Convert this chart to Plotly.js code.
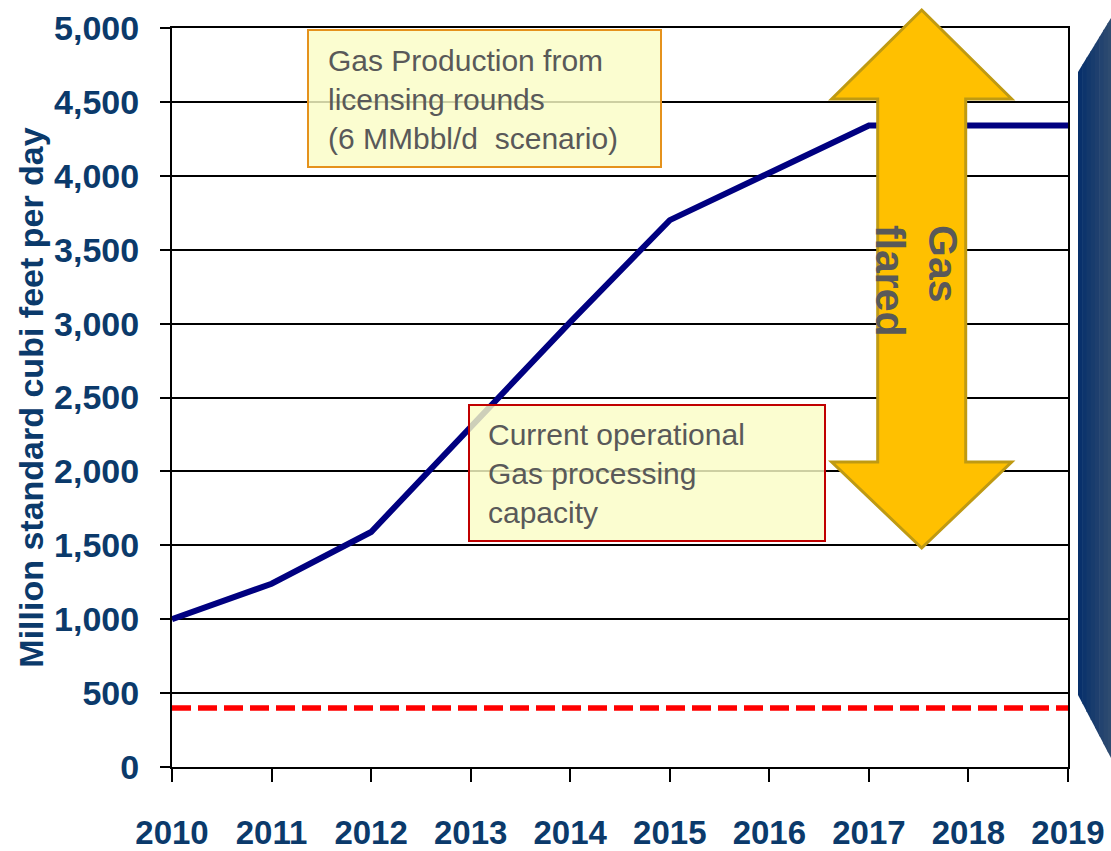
<!DOCTYPE html>
<html>
<head>
<meta charset="utf-8">
<script src="https://cdn.plot.ly/plotly-3.0.1.min.js"></script>
<style>html,body{margin:0;padding:0;background:#fff;}#chart{width:1111px;height:851px;}</style>
</head>
<body>
<div id="chart"></div>
<script>
// ---- data ----
var years = [2010, 2011, 2012, 2013, 2014, 2015, 2016, 2017, 2018, 2019];
var gasProduction = [1000, 1240, 1590, 2300, 3010, 3700, 4020, 4340, 4340, 4340];
var processingCapacity = [400, 400, 400, 400, 400, 400, 400, 400, 400, 400];
var yTickVals = [0, 500, 1000, 1500, 2000, 2500, 3000, 3500, 4000, 4500, 5000];
var yTickText = ['0', '500', '1,000', '1,500', '2,000', '2,500', '3,000', '3,500', '4,000', '4,500', '5,000'];
var xTickText = years.map(String);

// ---- layout helpers (pixel -> paper) ----
var W = 1111, H = 851, L = 172, R = 43, T = 28, B = 84;
var PW = W - L - R, PH = H - T - B;
function px(x) { return (x - L) / PW; }
function py(y) { return (H - B - y) / PH; }

var axisColor = '#0b3a6b';
var FONT = 'Liberation Sans, Arial, sans-serif';

var traces = [
  {
    x: years, y: processingCapacity, mode: 'lines', type: 'scatter',
    line: {color: '#ff0000', width: 5.5, dash: '19px,7px'},
    hoverinfo: 'skip', cliponaxis: false
  },
  {
    x: years, y: gasProduction, mode: 'lines', type: 'scatter',
    line: {color: '#000080', width: 6},
    hoverinfo: 'skip', cliponaxis: false
  }
];

// arrow (double-headed) in paper coords
var ax = {hl: px(831.7), sl: px(877.7), c: px(921.7), sr: px(965.7), hr: px(1011.7)};
var ay = {top: py(10), hb1: py(99), hb2: py(462), bot: py(548)};
var arrowPath = 'M' + ax.c + ',' + ay.top +
  ' L' + ax.hr + ',' + ay.hb1 + ' L' + ax.sr + ',' + ay.hb1 +
  ' L' + ax.sr + ',' + ay.hb2 + ' L' + ax.hr + ',' + ay.hb2 +
  ' L' + ax.c + ',' + ay.bot + ' L' + ax.hl + ',' + ay.hb2 +
  ' L' + ax.sl + ',' + ay.hb2 + ' L' + ax.sl + ',' + ay.hb1 +
  ' L' + ax.hl + ',' + ay.hb1 + ' Z';

var boxFill = 'rgba(250,252,198,0.82)';
var shapes = [
  {type: 'rect', xref: 'paper', yref: 'paper', x0: px(308), x1: px(661), y0: py(30), y1: py(167),
   fillcolor: boxFill, line: {color: '#e5921c', width: 2}, layer: 'above'},
  {type: 'rect', xref: 'paper', yref: 'paper', x0: px(469), x1: px(825), y0: py(405), y1: py(541),
   fillcolor: boxFill, line: {color: '#c00000', width: 2}, layer: 'above'},
  {type: 'path', xref: 'paper', yref: 'paper', path: arrowPath,
   fillcolor: '#ffc000', line: {color: '#bf9a12', width: 3}, layer: 'above'}
];

// right-edge dark blue chevron (gradient approximated by strips)
function topY(x) { return 72 - (x - 1078) * 54 / 33; }
function botY(x) { return 695 + (x - 1078) * 63 / 33; }
var nStrips = 8, x0 = 1078, x1 = 1112;
var c0 = [8, 48, 107], c1 = [46, 75, 112];
for (var i = 0; i < nStrips; i++) {
  var xa = x0 + (x1 - x0) * i / nStrips, xb = x0 + (x1 - x0) * (i + 1) / nStrips + 0.6;
  var t = i / (nStrips - 1);
  var col = 'rgb(' + c0.map(function (v, k) { return Math.round(v + (c1[k] - v) * t); }).join(',') + ')';
  var p = 'M' + px(xa) + ',' + py(topY(xa)) + ' L' + px(xb) + ',' + py(topY(xb)) +
    ' L' + px(xb) + ',' + py(botY(xb)) + ' L' + px(xa) + ',' + py(botY(xa)) + ' Z';
  shapes.push({type: 'path', xref: 'paper', yref: 'paper', path: p,
    fillcolor: col, line: {width: 0}, layer: 'above'});
}

var boxFont = {family: FONT, size: 30, color: '#595959'};

var annotations = [
  {
    xref: 'paper', yref: 'paper', x: px(327), y: py(99), xanchor: 'left', yanchor: 'middle',
    text: 'Gas Production from<br>licensing rounds<br>(6 MMbbl/d  scenario)',
    showarrow: false, align: 'left', font: boxFont, borderpad: 0
  },
  {
    xref: 'paper', yref: 'paper', x: px(487), y: py(473), xanchor: 'left', yanchor: 'middle',
    text: 'Current operational<br>Gas processing<br>capacity',
    showarrow: false, align: 'left', font: boxFont, borderpad: 0
  },
  {
    xref: 'paper', yref: 'paper', x: px(917), y: py(281), xanchor: 'center', yanchor: 'middle',
    text: 'Gas<br>flared', textangle: 90, showarrow: false, align: 'left',
    font: {family: FONT, size: 41, color: '#595959', weight: 'bold'}
  }
];

var layout = {
  width: W, height: H,
  margin: {l: L, r: R, t: T, b: B, pad: 0},
  paper_bgcolor: '#ffffff', plot_bgcolor: '#ffffff',
  showlegend: false,
  font: {family: FONT},
  xaxis: {
    range: [2010, 2019], tickmode: 'array', tickvals: years, ticktext: xTickText,
    showgrid: false, zeroline: false, showline: true, linecolor: '#000', linewidth: 2,
    mirror: true,
    ticks: 'outside', ticklen: 13, tickwidth: 2, tickcolor: '#000',
    ticklabelstandoff: 22,
    tickfont: {family: FONT, size: 33, color: axisColor, weight: 'bold'},
    fixedrange: true
  },
  yaxis: {
    range: [0, 5000], tickmode: 'array', tickvals: yTickVals, ticktext: yTickText,
    showgrid: true, gridcolor: '#000', gridwidth: 2,
    zeroline: false, showline: true, linecolor: '#000', linewidth: 2, mirror: true,
    ticks: 'outside', ticklen: 10, tickwidth: 2, tickcolor: '#000',
    ticklabelstandoff: 14,
    tickfont: {family: FONT, size: 34, color: axisColor, weight: 'bold'},
    title: {text: 'Million standard cubi feet per day', standoff: 0,
      font: {family: FONT, size: 34, color: axisColor, weight: 'bold'}},
    fixedrange: true
  },
  shapes: shapes,
  annotations: annotations
};

Plotly.newPlot('chart', traces, layout, {displayModeBar: false, staticPlot: true});
</script>
</body>
</html>
